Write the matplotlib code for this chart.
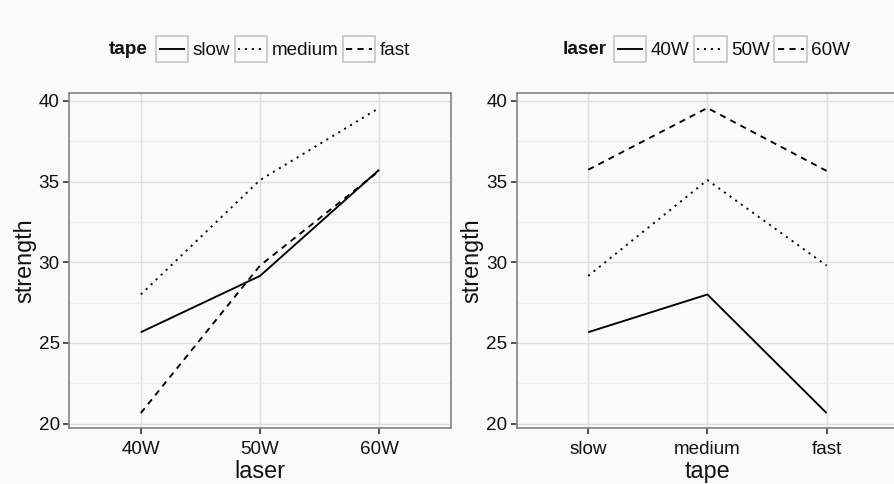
import matplotlib
matplotlib.use("Agg")
import matplotlib.pyplot as plt
from matplotlib.lines import Line2D
from matplotlib.patches import Rectangle
from matplotlib.legend_handler import HandlerBase
import numpy as np

plt.rcParams["font.family"] = ["Liberation Sans", "DejaVu Sans"]

# Composite strength by laser power and tape speed
laser_levels = ["40W", "50W", "60W"]
tape_levels = ["slow", "medium", "fast"]
# strength[tape][laser]
strength_slow = [25.66, 29.15, 35.73]
strength_medium = [28.00, 35.09, 39.56]
strength_fast = [20.65, 29.79, 35.66]
strength = np.array([strength_slow, strength_medium, strength_fast])

y_ticks = [20, 25, 30, 35, 40]

BG = "#FAFAFA"
GRID_MAJOR = "#DEDEDE"
GRID_MINOR = "#EDEDED"
BORDER = "#858585"
LW = 1.35
styles = ["-", (0, (1.1, 2.6)), (0, (3.3, 2.8))]
FS = 13.6
TITLE_FS = 16.8

fig = plt.figure(figsize=(8.95, 4.84), dpi=100, facecolor=BG)
W, H = 895, 484


def px_axes(x0, x1, y0, y1):
    return fig.add_axes([x0 / W, 1 - y1 / H, (x1 - x0) / W, (y1 - y0) / H])


ax1 = px_axes(69.3, 450.7, 92.7, 428.3)
ax2 = px_axes(516.7, 898.1, 92.7, 428.3)

ymin, ymax = strength.min(), strength.max()
pad = 0.05 * (ymax - ymin)


def style_axes(ax, cats, xlabel):
    ax.set_facecolor(BG)
    ax.set_xlim(-0.6, len(cats) - 0.4)
    ax.set_ylim(ymin - pad, ymax + pad)
    ax.set_xticks(range(len(cats)))
    ax.set_xticklabels(cats)
    ax.set_yticks(y_ticks)
    ax.set_yticks([22.5, 27.5, 32.5, 37.5], minor=True)
    ax.tick_params(axis="x", which="minor", length=0)
    ax.grid(True, which="major", color=GRID_MAJOR, lw=1.0, zorder=0)
    ax.grid(True, which="minor", axis="y", color=GRID_MINOR, lw=1.0, zorder=0)
    ax.set_axisbelow(True)
    for s in ax.spines.values():
        s.set_color(BORDER)
        s.set_linewidth(1.2)
    ax.tick_params(which="major", length=4.3, width=1.2, color="#333333",
                   labelsize=FS, labelcolor="#111111")
    ax.tick_params(axis="x", which="major", pad=4.8)
    ax.tick_params(axis="y", which="major", pad=2.5)
    ax.tick_params(axis="y", which="minor", length=0)
    ax.set_xlabel(xlabel, fontsize=TITLE_FS, labelpad=1.5, color="#111111")
    ax.set_ylabel("strength", fontsize=TITLE_FS, labelpad=2, color="#111111")


style_axes(ax1, laser_levels, "laser")
style_axes(ax2, tape_levels, "tape")

# Left: strength vs laser, one line per tape speed
x_laser = np.arange(len(laser_levels))
for i, t in enumerate(tape_levels):
    ax1.plot(x_laser, strength[i], color="black", lw=LW, ls=styles[i],
             solid_capstyle="butt", dash_capstyle="butt", zorder=3)

# Right: strength vs tape, one line per laser power
x_tape = np.arange(len(tape_levels))
for j, l in enumerate(laser_levels):
    ax2.plot(x_tape, strength[:, j], color="black", lw=LW, ls=styles[j],
             solid_capstyle="butt", dash_capstyle="butt", zorder=3)


class BoxedKey(HandlerBase):
    """Legend key: a framed square with the line style drawn inside."""

    def create_artists(self, legend, orig_handle, xdescent, ydescent,
                       width, height, fontsize, trans):
        x0, y0 = -xdescent, -ydescent
        rect = Rectangle((x0, y0), width, height, facecolor=BG,
                         edgecolor="#C8C8C8", lw=1.3, transform=trans)
        inset = 0.1 * width
        yc = y0 + height / 2
        ls = styles[int(orig_handle.get_gid())]
        line = Line2D([x0 + inset, x0 + width - inset], [yc, yc],
                      color="black", lw=LW, ls=ls,
                      dash_capstyle="butt", solid_capstyle="butt",
                      transform=trans)
        return [rect, line]


def add_legend(title, labels, title_x, box_x):
    yc = 1 - 49 / H
    handles = [Line2D([], [], color="black", lw=LW, gid=str(k))
               for k in range(len(styles))]
    leg = fig.legend(handles, labels, loc="center left",
                     bbox_to_anchor=(box_x / W, yc), ncol=3, frameon=False,
                     fontsize=FS, handler_map={Line2D: BoxedKey()},
                     handlelength=1.72, handleheight=1.72, handletextpad=0.22,
                     columnspacing=0.25, borderpad=0, borderaxespad=0)
    for txt in leg.get_texts():
        txt.set_color("#111111")
    fig.text(title_x / W, yc + 1 / H, title, fontsize=FS, fontweight="bold",
             ha="left", va="center_baseline", color="#111111")


add_legend("tape", tape_levels, 109, 156)
add_legend("laser", laser_levels, 562.5, 614)

fig.savefig("out.png", dpi=100, facecolor=BG)
